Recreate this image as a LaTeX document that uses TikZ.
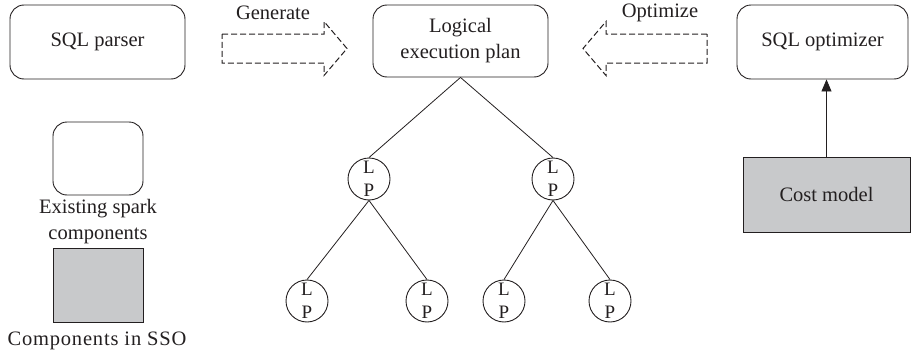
\documentclass[tikz,border=0pt]{standalone}
\usepackage{fontspec}
\setmainfont{Liberation Serif}
\usetikzlibrary{arrows.meta}
\definecolor{ink}{HTML}{231F20}
\definecolor{boxgray}{HTML}{C8C9CB}
\tikzset{
  rbox/.style={draw=ink, rounded corners=14pt, align=center, inner sep=0pt},
  gbox/.style={draw=ink, fill=boxgray, align=center, inner sep=0pt},
  lpnode/.style={draw=ink, circle, minimum size=42pt, inner sep=0pt, align=center,
    font=\fontsize{19}{23}\selectfont},
  plain/.style={align=center, inner sep=0pt},
  darrow/.style={draw=ink, dash pattern=on 6pt off 3pt, line width=1pt},
  link/.style={draw=ink, line width=0.8pt},
}
\begin{document}
\begin{tikzpicture}[x=1pt, y=-1pt, line width=0.9pt, text=ink,
  font=\fontsize{20.5}{26}\selectfont]
\useasboundingbox (0,0) rectangle (911,356);
% main boxes
\node[rbox, minimum width=175pt, minimum height=74pt] (parser) at (97.5,42) {SQL parser};
\node[rbox, minimum width=175pt, minimum height=72pt] (plan) at (460.5,41) {Logical\\execution plan};
\node[rbox, minimum width=171pt, minimum height=74pt] (opt) at (822.5,42) {SQL optimizer};
\node[gbox, minimum width=167pt, minimum height=75pt] (cost) at (826.5,194.5) {Cost model};
\draw[link, -{Triangle[length=12pt,width=10pt]}] (cost.north) -- (cost.north |- opt.south);
% legend
\node[rbox, minimum width=90pt, minimum height=73pt] (legA) at (98,158.5) {};
\node[plain] (legAtxt) at (98,222) {Existing spark\\components};
\node[gbox, minimum width=90pt, minimum height=74pt] (legB) at (98,285) {};
\node[plain] (legBtxt) at (97,341) {\addfontfeature{LetterSpace=4}Components in SSO};
% dashed block arrows
\draw[darrow] (222,34) -- (324,34) -- (324,21.5) -- (347,48.5) -- (324,75.5) -- (324,63) -- (222,63) -- cycle;
\node[plain] (gen) at (273,13) {Generate};
\draw[darrow] (707,34) -- (606,34) -- (606,21.5) -- (583,48.5) -- (606,75.5) -- (606,63) -- (707,63) -- cycle;
\node[plain] (optl) at (660,13) {Optimize};
% tree
\node[lpnode] (a) at (369,179) {L\\P};
\node[lpnode] (b) at (553,179) {L\\P};
\node[lpnode] (a1) at (307,301) {L\\P};
\node[lpnode] (a2) at (427,301) {L\\P};
\node[lpnode] (b1) at (504,301) {L\\P};
\node[lpnode] (b2) at (610,301) {L\\P};
\draw[link] (plan.south) -- (a.north);
\draw[link] (plan.south) -- (b.north);
\draw[link] (a.south) -- (a1.north);
\draw[link] (a.south) -- (a2.north);
\draw[link] (b.south) -- (b1.north);
\draw[link] (b.south) -- (b2.north);
\end{tikzpicture}
\end{document}
